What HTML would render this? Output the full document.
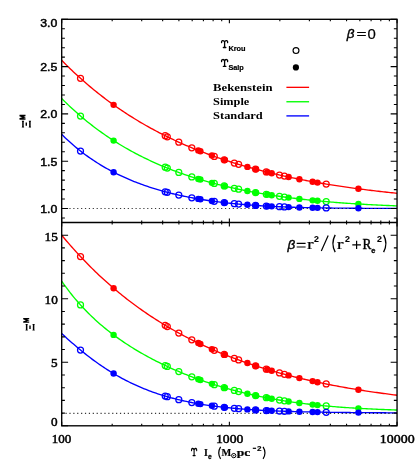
<!DOCTYPE html>
<html><head><meta charset="utf-8"><title>Chart</title>
<style>html,body{margin:0;padding:0;background:#fff;}body{width:415px;height:465px;overflow:hidden;font-family:"Liberation Sans",sans-serif;}svg{display:block;will-change:transform;}</style>
</head><body>
<svg width="415" height="465" viewBox="0 0 415 465">
<rect x="0" y="0" width="415" height="465" fill="#ffffff"/>
<defs><clipPath id="ct"><rect x="61.70" y="19.30" width="335.35" height="203.20"/></clipPath><clipPath id="cb"><rect x="61.70" y="222.50" width="335.35" height="203.30"/></clipPath></defs>
<polyline clip-path="url(#ct)" points="61.70,60.31 63.39,62.02 65.07,63.72 66.76,65.39 68.44,67.04 70.13,68.68 71.81,70.30 73.50,71.89 75.18,73.47 76.87,75.03 78.55,76.57 80.24,78.10 81.92,79.60 83.61,81.09 85.29,82.56 86.98,84.01 88.66,85.45 90.35,86.87 92.03,88.27 93.72,89.66 95.40,91.03 97.09,92.38 98.77,93.72 100.46,95.05 102.14,96.35 103.83,97.64 105.51,98.92 107.20,100.18 108.88,101.43 110.57,102.66 112.26,103.88 113.94,105.09 115.63,106.28 117.31,107.45 119.00,108.61 120.68,109.76 122.37,110.90 124.05,112.02 125.74,113.13 127.42,114.23 129.11,115.31 130.79,116.38 132.48,117.44 134.16,118.48 135.85,119.52 137.53,120.54 139.22,121.55 140.90,122.55 142.59,123.53 144.27,124.51 145.96,125.47 147.64,126.42 149.33,127.36 151.01,128.29 152.70,129.21 154.38,130.12 156.07,131.02 157.76,131.91 159.44,132.79 161.13,133.65 162.81,134.51 164.50,135.36 166.18,136.20 167.87,137.02 169.55,137.84 171.24,138.65 172.92,139.45 174.61,140.24 176.29,141.02 177.98,141.79 179.66,142.55 181.35,143.31 183.03,144.05 184.72,144.79 186.40,145.52 188.09,146.24 189.77,146.95 191.46,147.65 193.14,148.34 194.83,149.03 196.51,149.71 198.20,150.38 199.88,151.04 201.57,151.70 203.25,152.35 204.94,152.99 206.63,153.62 208.31,154.25 210.00,154.86 211.68,155.47 213.37,156.08 215.05,156.68 216.74,157.27 218.42,157.85 220.11,158.43 221.79,159.00 223.48,159.56 225.16,160.12 226.85,160.67 228.53,161.21 230.22,161.75 231.90,162.28 233.59,162.81 235.27,163.33 236.96,163.84 238.64,164.35 240.33,164.85 242.01,165.34 243.70,165.83 245.38,166.32 247.07,166.80 248.75,167.27 250.44,167.74 252.12,168.20 253.81,168.66 255.50,169.11 257.18,169.56 258.87,170.00 260.55,170.44 262.24,170.87 263.92,171.29 265.61,171.71 267.29,172.13 268.98,172.54 270.66,172.95 272.35,173.35 274.03,173.75 275.72,174.14 277.40,174.53 279.09,174.92 280.77,175.30 282.46,175.67 284.14,176.04 285.83,176.41 287.51,176.77 289.20,177.13 290.88,177.49 292.57,177.84 294.25,178.18 295.94,178.53 297.62,178.87 299.31,179.20 300.99,179.53 302.68,179.86 304.37,180.18 306.05,180.50 307.74,180.82 309.42,181.13 311.11,181.44 312.79,181.74 314.48,182.04 316.16,182.34 317.85,182.64 319.53,182.93 321.22,183.22 322.90,183.50 324.59,183.78 326.27,184.06 327.96,184.34 329.64,184.61 331.33,184.88 333.01,185.14 334.70,185.41 336.38,185.67 338.07,185.92 339.75,186.18 341.44,186.43 343.12,186.68 344.81,186.92 346.49,187.16 348.18,187.40 349.87,187.64 351.55,187.87 353.24,188.11 354.92,188.34 356.61,188.56 358.29,188.79 359.98,189.01 361.66,189.23 363.35,189.44 365.03,189.66 366.72,189.87 368.40,190.08 370.09,190.28 371.77,190.49 373.46,190.69 375.14,190.89 376.83,191.09 378.51,191.28 380.20,191.47 381.88,191.66 383.57,191.85 385.25,192.04 386.94,192.22 388.62,192.40 390.31,192.58 391.99,192.76 393.68,192.94 395.36,193.11 397.05,193.28" fill="none" stroke="#ff0000" stroke-width="1.35" stroke-linejoin="round"/>
<polyline clip-path="url(#ct)" points="61.70,98.53 63.39,100.21 65.07,101.88 66.76,103.52 68.44,105.13 70.13,106.72 71.81,108.29 73.50,109.83 75.18,111.36 76.87,112.85 78.55,114.33 80.24,115.79 81.92,117.22 83.61,118.63 85.29,120.03 86.98,121.40 88.66,122.75 90.35,124.08 92.03,125.39 93.72,126.69 95.40,127.96 97.09,129.22 98.77,130.45 100.46,131.67 102.14,132.87 103.83,134.06 105.51,135.22 107.20,136.37 108.88,137.51 110.57,138.62 112.26,139.72 113.94,140.81 115.63,141.87 117.31,142.93 119.00,143.96 120.68,144.99 122.37,145.99 124.05,146.99 125.74,147.97 127.42,148.93 129.11,149.88 130.79,150.82 132.48,151.74 134.16,152.65 135.85,153.54 137.53,154.43 139.22,155.30 140.90,156.15 142.59,157.00 144.27,157.83 145.96,158.65 147.64,159.46 149.33,160.26 151.01,161.04 152.70,161.82 154.38,162.58 156.07,163.33 157.76,164.07 159.44,164.80 161.13,165.52 162.81,166.23 164.50,166.92 166.18,167.61 167.87,168.29 169.55,168.96 171.24,169.61 172.92,170.26 174.61,170.90 176.29,171.53 177.98,172.15 179.66,172.76 181.35,173.36 183.03,173.95 184.72,174.54 186.40,175.11 188.09,175.68 189.77,176.24 191.46,176.79 193.14,177.33 194.83,177.86 196.51,178.39 198.20,178.91 199.88,179.42 201.57,179.92 203.25,180.41 204.94,180.90 206.63,181.38 208.31,181.85 210.00,182.32 211.68,182.78 213.37,183.23 215.05,183.67 216.74,184.11 218.42,184.54 220.11,184.96 221.79,185.38 223.48,185.79 225.16,186.20 226.85,186.60 228.53,186.99 230.22,187.38 231.90,187.76 233.59,188.13 235.27,188.50 236.96,188.87 238.64,189.22 240.33,189.57 242.01,189.92 243.70,190.26 245.38,190.60 247.07,190.93 248.75,191.25 250.44,191.57 252.12,191.89 253.81,192.20 255.50,192.50 257.18,192.80 258.87,193.10 260.55,193.39 262.24,193.67 263.92,193.95 265.61,194.23 267.29,194.50 268.98,194.77 270.66,195.03 272.35,195.29 274.03,195.55 275.72,195.80 277.40,196.04 279.09,196.29 280.77,196.52 282.46,196.76 284.14,196.99 285.83,197.21 287.51,197.44 289.20,197.66 290.88,197.87 292.57,198.08 294.25,198.29 295.94,198.49 297.62,198.70 299.31,198.89 300.99,199.09 302.68,199.28 304.37,199.47 306.05,199.65 307.74,199.83 309.42,200.01 311.11,200.18 312.79,200.35 314.48,200.52 316.16,200.69 317.85,200.85 319.53,201.01 321.22,201.17 322.90,201.32 324.59,201.47 326.27,201.62 327.96,201.77 329.64,201.91 331.33,202.05 333.01,202.19 334.70,202.33 336.38,202.46 338.07,202.59 339.75,202.72 341.44,202.84 343.12,202.97 344.81,203.09 346.49,203.21 348.18,203.32 349.87,203.44 351.55,203.55 353.24,203.66 354.92,203.77 356.61,203.87 358.29,203.98 359.98,204.08 361.66,204.18 363.35,204.28 365.03,204.37 366.72,204.47 368.40,204.56 370.09,204.65 371.77,204.74 373.46,204.83 375.14,204.91 376.83,205.00 378.51,205.08 380.20,205.16 381.88,205.24 383.57,205.31 385.25,205.39 386.94,205.46 388.62,205.54 390.31,205.61 391.99,205.68 393.68,205.74 395.36,205.81 397.05,205.88" fill="none" stroke="#00ff00" stroke-width="1.35" stroke-linejoin="round"/>
<polyline clip-path="url(#ct)" points="61.70,134.34 63.39,136.01 65.07,137.65 66.76,139.25 68.44,140.81 70.13,142.34 71.81,143.83 73.50,145.29 75.18,146.72 76.87,148.12 78.55,149.49 80.24,150.83 81.92,152.14 83.61,153.42 85.29,154.67 86.98,155.90 88.66,157.10 90.35,158.28 92.03,159.43 93.72,160.55 95.40,161.66 97.09,162.74 98.77,163.79 100.46,164.83 102.14,165.84 103.83,166.83 105.51,167.80 107.20,168.75 108.88,169.68 110.57,170.59 112.26,171.49 113.94,172.36 115.63,173.22 117.31,174.05 119.00,174.87 120.68,175.68 122.37,176.46 124.05,177.23 125.74,177.99 127.42,178.73 129.11,179.45 130.79,180.16 132.48,180.85 134.16,181.53 135.85,182.19 137.53,182.84 139.22,183.48 140.90,184.11 142.59,184.72 144.27,185.31 145.96,185.90 147.64,186.47 149.33,187.03 151.01,187.58 152.70,188.12 154.38,188.64 156.07,189.16 157.76,189.66 159.44,190.15 161.13,190.64 162.81,191.11 164.50,191.57 166.18,192.02 167.87,192.46 169.55,192.89 171.24,193.31 172.92,193.73 174.61,194.13 176.29,194.53 177.98,194.91 179.66,195.29 181.35,195.66 183.03,196.02 184.72,196.37 186.40,196.71 188.09,197.05 189.77,197.38 191.46,197.70 193.14,198.01 194.83,198.32 196.51,198.61 198.20,198.91 199.88,199.19 201.57,199.47 203.25,199.74 204.94,200.00 206.63,200.26 208.31,200.51 210.00,200.76 211.68,201.00 213.37,201.23 215.05,201.46 216.74,201.68 218.42,201.89 220.11,202.10 221.79,202.31 223.48,202.51 225.16,202.70 226.85,202.89 228.53,203.08 230.22,203.26 231.90,203.43 233.59,203.60 235.27,203.76 236.96,203.92 238.64,204.08 240.33,204.23 242.01,204.38 243.70,204.52 245.38,204.66 247.07,204.80 248.75,204.93 250.44,205.05 252.12,205.18 253.81,205.30 255.50,205.41 257.18,205.53 258.87,205.64 260.55,205.74 262.24,205.85 263.92,205.95 265.61,206.04 267.29,206.14 268.98,206.23 270.66,206.31 272.35,206.40 274.03,206.48 275.72,206.56 277.40,206.64 279.09,206.71 280.77,206.78 282.46,206.85 284.14,206.92 285.83,206.98 287.51,207.05 289.20,207.11 290.88,207.16 292.57,207.22 294.25,207.27 295.94,207.33 297.62,207.38 299.31,207.43 300.99,207.47 302.68,207.52 304.37,207.56 306.05,207.60 307.74,207.64 309.42,207.68 311.11,207.71 312.79,207.75 314.48,207.78 316.16,207.81 317.85,207.84 319.53,207.87 321.22,207.90 322.90,207.92 324.59,207.95 326.27,207.97 327.96,207.99 329.64,208.02 331.33,208.04 333.01,208.06 334.70,208.08 336.38,208.09 338.07,208.11 339.75,208.13 341.44,208.14 343.12,208.16 344.81,208.17 346.49,208.19 348.18,208.20 349.87,208.21 351.55,208.23 353.24,208.24 354.92,208.25 356.61,208.26 358.29,208.27 359.98,208.28 361.66,208.29 363.35,208.30 365.03,208.31 366.72,208.32 368.40,208.32 370.09,208.33 371.77,208.34 373.46,208.35 375.14,208.35 376.83,208.36 378.51,208.37 380.20,208.37 381.88,208.38 383.57,208.38 385.25,208.39 386.94,208.39 388.62,208.40 390.31,208.40 391.99,208.41 393.68,208.41 395.36,208.41 397.05,208.42" fill="none" stroke="#0000ff" stroke-width="1.35" stroke-linejoin="round"/>
<polyline clip-path="url(#cb)" points="61.70,235.20 63.39,237.22 65.07,239.23 66.76,241.21 68.44,243.17 70.13,245.11 71.81,247.03 73.50,248.92 75.18,250.79 76.87,252.65 78.55,254.48 80.24,256.29 81.92,258.08 83.61,259.84 85.29,261.59 86.98,263.32 88.66,265.03 90.35,266.72 92.03,268.39 93.72,270.05 95.40,271.68 97.09,273.29 98.77,274.89 100.46,276.47 102.14,278.03 103.83,279.57 105.51,281.10 107.20,282.60 108.88,284.09 110.57,285.57 112.26,287.03 113.94,288.47 115.63,289.89 117.31,291.30 119.00,292.69 120.68,294.07 122.37,295.43 124.05,296.77 125.74,298.10 127.42,299.42 129.11,300.72 130.79,302.00 132.48,303.27 134.16,304.53 135.85,305.77 137.53,307.00 139.22,308.21 140.90,309.41 142.59,310.60 144.27,311.77 145.96,312.93 147.64,314.07 149.33,315.21 151.01,316.33 152.70,317.43 154.38,318.53 156.07,319.61 157.76,320.68 159.44,321.74 161.13,322.78 162.81,323.82 164.50,324.84 166.18,325.85 167.87,326.85 169.55,327.84 171.24,328.81 172.92,329.78 174.61,330.73 176.29,331.68 177.98,332.61 179.66,333.53 181.35,334.44 183.03,335.35 184.72,336.24 186.40,337.12 188.09,337.99 189.77,338.85 191.46,339.70 193.14,340.54 194.83,341.37 196.51,342.19 198.20,343.01 199.88,343.81 201.57,344.61 203.25,345.39 204.94,346.17 206.63,346.94 208.31,347.69 210.00,348.44 211.68,349.19 213.37,349.92 215.05,350.64 216.74,351.36 218.42,352.07 220.11,352.77 221.79,353.46 223.48,354.15 225.16,354.82 226.85,355.49 228.53,356.15 230.22,356.81 231.90,357.45 233.59,358.09 235.27,358.72 236.96,359.35 238.64,359.96 240.33,360.57 242.01,361.18 243.70,361.77 245.38,362.36 247.07,362.95 248.75,363.52 250.44,364.09 252.12,364.66 253.81,365.21 255.50,365.76 257.18,366.31 258.87,366.84 260.55,367.38 262.24,367.90 263.92,368.42 265.61,368.93 267.29,369.44 268.98,369.94 270.66,370.44 272.35,370.93 274.03,371.42 275.72,371.89 277.40,372.37 279.09,372.84 280.77,373.30 282.46,373.76 284.14,374.21 285.83,374.66 287.51,375.10 289.20,375.54 290.88,375.97 292.57,376.40 294.25,376.82 295.94,377.24 297.62,377.65 299.31,378.06 300.99,378.46 302.68,378.86 304.37,379.25 306.05,379.64 307.74,380.03 309.42,380.41 311.11,380.79 312.79,381.16 314.48,381.53 316.16,381.89 317.85,382.25 319.53,382.60 321.22,382.96 322.90,383.30 324.59,383.65 326.27,383.99 327.96,384.32 329.64,384.65 331.33,384.98 333.01,385.31 334.70,385.63 336.38,385.94 338.07,386.26 339.75,386.56 341.44,386.87 343.12,387.17 344.81,387.47 346.49,387.77 348.18,388.06 349.87,388.35 351.55,388.63 353.24,388.92 354.92,389.20 356.61,389.47 358.29,389.74 359.98,390.01 361.66,390.28 363.35,390.54 365.03,390.80 366.72,391.06 368.40,391.31 370.09,391.57 371.77,391.81 373.46,392.06 375.14,392.30 376.83,392.54 378.51,392.78 380.20,393.02 381.88,393.25 383.57,393.48 385.25,393.70 386.94,393.93 388.62,394.15 390.31,394.37 391.99,394.58 393.68,394.80 395.36,395.01 397.05,395.22" fill="none" stroke="#ff0000" stroke-width="1.35" stroke-linejoin="round"/>
<polyline clip-path="url(#cb)" points="61.70,281.11 63.39,283.53 65.07,285.88 66.76,288.18 68.44,290.42 70.13,292.60 71.81,294.73 73.50,296.81 75.18,298.83 76.87,300.81 78.55,302.75 80.24,304.64 81.92,306.49 83.61,308.29 85.29,310.06 86.98,311.79 88.66,313.48 90.35,315.14 92.03,316.76 93.72,318.35 95.40,319.90 97.09,321.43 98.77,322.92 100.46,324.39 102.14,325.83 103.83,327.24 105.51,328.62 107.20,329.98 108.88,331.31 110.57,332.62 112.26,333.91 113.94,335.18 115.63,336.42 117.31,337.64 119.00,338.84 120.68,340.02 122.37,341.18 124.05,342.33 125.74,343.45 127.42,344.56 129.11,345.65 130.79,346.72 132.48,347.77 134.16,348.81 135.85,349.84 137.53,350.85 139.22,351.84 140.90,352.82 142.59,353.78 144.27,354.74 145.96,355.67 147.64,356.60 149.33,357.51 151.01,358.41 152.70,359.29 154.38,360.17 156.07,361.03 157.76,361.88 159.44,362.72 161.13,363.54 162.81,364.36 164.50,365.16 166.18,365.96 167.87,366.74 169.55,367.51 171.24,368.28 172.92,369.03 174.61,369.77 176.29,370.50 177.98,371.23 179.66,371.94 181.35,372.64 183.03,373.34 184.72,374.02 186.40,374.70 188.09,375.37 189.77,376.02 191.46,376.67 193.14,377.31 194.83,377.94 196.51,378.57 198.20,379.18 199.88,379.79 201.57,380.39 203.25,380.97 204.94,381.56 206.63,382.13 208.31,382.69 210.00,383.25 211.68,383.80 213.37,384.34 215.05,384.88 216.74,385.40 218.42,385.92 220.11,386.43 221.79,386.93 223.48,387.43 225.16,387.92 226.85,388.40 228.53,388.87 230.22,389.34 231.90,389.80 233.59,390.25 235.27,390.69 236.96,391.13 238.64,391.56 240.33,391.99 242.01,392.41 243.70,392.82 245.38,393.22 247.07,393.62 248.75,394.01 250.44,394.39 252.12,394.77 253.81,395.14 255.50,395.51 257.18,395.87 258.87,396.22 260.55,396.57 262.24,396.91 263.92,397.24 265.61,397.57 267.29,397.89 268.98,398.21 270.66,398.52 272.35,398.82 274.03,399.12 275.72,399.42 277.40,399.71 279.09,399.99 280.77,400.27 282.46,400.54 284.14,400.80 285.83,401.07 287.51,401.32 289.20,401.57 290.88,401.82 292.57,402.06 294.25,402.30 295.94,402.53 297.62,402.76 299.31,402.98 300.99,403.20 302.68,403.41 304.37,403.62 306.05,403.83 307.74,404.03 309.42,404.22 311.11,404.41 312.79,404.60 314.48,404.78 316.16,404.96 317.85,405.14 319.53,405.31 321.22,405.48 322.90,405.64 324.59,405.80 326.27,405.96 327.96,406.11 329.64,406.26 331.33,406.41 333.01,406.55 334.70,406.69 336.38,406.83 338.07,406.96 339.75,407.09 341.44,407.22 343.12,407.34 344.81,407.46 346.49,407.58 348.18,407.69 349.87,407.81 351.55,407.92 353.24,408.02 354.92,408.13 356.61,408.23 358.29,408.33 359.98,408.42 361.66,408.52 363.35,408.61 365.03,408.70 366.72,408.79 368.40,408.87 370.09,408.95 371.77,409.03 373.46,409.11 375.14,409.19 376.83,409.26 378.51,409.33 380.20,409.40 381.88,409.47 383.57,409.54 385.25,409.60 386.94,409.67 388.62,409.73 390.31,409.79 391.99,409.85 393.68,409.90 395.36,409.96 397.05,410.01" fill="none" stroke="#00ff00" stroke-width="1.35" stroke-linejoin="round"/>
<polyline clip-path="url(#cb)" points="61.70,333.48 63.39,335.04 65.07,336.59 66.76,338.13 68.44,339.65 70.13,341.15 71.81,342.64 73.50,344.11 75.18,345.56 76.87,347.00 78.55,348.41 80.24,349.81 81.92,351.20 83.61,352.56 85.29,353.90 86.98,355.23 88.66,356.53 90.35,357.82 92.03,359.09 93.72,360.34 95.40,361.56 97.09,362.77 98.77,363.96 100.46,365.13 102.14,366.28 103.83,367.41 105.51,368.52 107.20,369.61 108.88,370.68 110.57,371.73 112.26,372.76 113.94,373.77 115.63,374.76 117.31,375.73 119.00,376.69 120.68,377.62 122.37,378.54 124.05,379.44 125.74,380.32 127.42,381.18 129.11,382.02 130.79,382.84 132.48,383.65 134.16,384.44 135.85,385.21 137.53,385.97 139.22,386.70 140.90,387.42 142.59,388.13 144.27,388.82 145.96,389.49 147.64,390.15 149.33,390.79 151.01,391.41 152.70,392.02 154.38,392.62 156.07,393.20 157.76,393.77 159.44,394.32 161.13,394.86 162.81,395.38 164.50,395.89 166.18,396.39 167.87,396.88 169.55,397.35 171.24,397.81 172.92,398.26 174.61,398.70 176.29,399.13 177.98,399.54 179.66,399.94 181.35,400.34 183.03,400.72 184.72,401.09 186.40,401.45 188.09,401.80 189.77,402.14 191.46,402.47 193.14,402.80 194.83,403.11 196.51,403.41 198.20,403.71 199.88,404.00 201.57,404.28 203.25,404.55 204.94,404.81 206.63,405.07 208.31,405.31 210.00,405.56 211.68,405.79 213.37,406.02 215.05,406.24 216.74,406.45 218.42,406.66 220.11,406.86 221.79,407.05 223.48,407.24 225.16,407.43 226.85,407.61 228.53,407.78 230.22,407.94 231.90,408.11 233.59,408.26 235.27,408.42 236.96,408.56 238.64,408.71 240.33,408.85 242.01,408.98 243.70,409.11 245.38,409.24 247.07,409.36 248.75,409.48 250.44,409.59 252.12,409.70 253.81,409.81 255.50,409.92 257.18,410.02 258.87,410.11 260.55,410.21 262.24,410.30 263.92,410.39 265.61,410.47 267.29,410.56 268.98,410.64 270.66,410.72 272.35,410.79 274.03,410.86 275.72,410.93 277.40,411.00 279.09,411.07 280.77,411.13 282.46,411.19 284.14,411.25 285.83,411.31 287.51,411.37 289.20,411.42 290.88,411.48 292.57,411.53 294.25,411.58 295.94,411.62 297.62,411.67 299.31,411.71 300.99,411.76 302.68,411.80 304.37,411.84 306.05,411.88 307.74,411.91 309.42,411.95 311.11,411.99 312.79,412.02 314.48,412.05 316.16,412.09 317.85,412.12 319.53,412.15 321.22,412.17 322.90,412.20 324.59,412.23 326.27,412.26 327.96,412.28 329.64,412.31 331.33,412.33 333.01,412.35 334.70,412.37 336.38,412.40 338.07,412.42 339.75,412.44 341.44,412.46 343.12,412.47 344.81,412.49 346.49,412.51 348.18,412.53 349.87,412.54 351.55,412.56 353.24,412.58 354.92,412.59 356.61,412.60 358.29,412.62 359.98,412.63 361.66,412.64 363.35,412.66 365.03,412.67 366.72,412.68 368.40,412.69 370.09,412.70 371.77,412.71 373.46,412.73 375.14,412.74 376.83,412.75 378.51,412.75 380.20,412.76 381.88,412.77 383.57,412.78 385.25,412.79 386.94,412.80 388.62,412.81 390.31,412.81 391.99,412.82 393.68,412.83 395.36,412.83 397.05,412.84" fill="none" stroke="#0000ff" stroke-width="1.35" stroke-linejoin="round"/>
<line x1="61.60" y1="208.50" x2="397.05" y2="208.50" stroke="#000" stroke-width="1.05" stroke-dasharray="1.2 2.69" opacity="0.78"/>
<line x1="61.60" y1="413.39" x2="397.05" y2="413.39" stroke="#000" stroke-width="1.05" stroke-dasharray="1.2 2.69" opacity="0.78"/>
<g fill="none" stroke="#ff0000" stroke-width="1.25"><circle cx="80.50" cy="78.33" r="3.00"/><circle cx="165.20" cy="135.71" r="3.00"/><circle cx="167.30" cy="136.75" r="3.00"/><circle cx="178.80" cy="142.16" r="3.00"/><circle cx="191.80" cy="147.79" r="3.00"/><circle cx="214.30" cy="156.41" r="3.00"/><circle cx="224.20" cy="159.80" r="3.00"/><circle cx="234.30" cy="163.03" r="3.00"/><circle cx="238.60" cy="164.33" r="3.00"/><circle cx="255.50" cy="169.11" r="3.00"/><circle cx="266.30" cy="171.89" r="3.00"/><circle cx="279.50" cy="175.01" r="3.00"/><circle cx="284.40" cy="176.10" r="3.00"/><circle cx="326.20" cy="184.05" r="3.00"/></g>
<g fill="#ff0000" stroke="none"><circle cx="113.60" cy="104.84" r="3.20"/><circle cx="198.30" cy="150.42" r="3.20"/><circle cx="200.40" cy="151.24" r="3.20"/><circle cx="211.90" cy="155.55" r="3.20"/><circle cx="224.90" cy="160.03" r="3.20"/><circle cx="247.40" cy="166.89" r="3.20"/><circle cx="256.10" cy="169.27" r="3.20"/><circle cx="267.40" cy="172.16" r="3.20"/><circle cx="271.70" cy="173.20" r="3.20"/><circle cx="288.60" cy="177.01" r="3.20"/><circle cx="299.40" cy="179.22" r="3.20"/><circle cx="312.60" cy="181.71" r="3.20"/><circle cx="317.50" cy="182.58" r="3.20"/><circle cx="358.40" cy="188.80" r="3.20"/></g>
<g fill="none" stroke="#00ff00" stroke-width="1.25"><circle cx="80.50" cy="116.01" r="3.00"/><circle cx="165.20" cy="167.21" r="3.00"/><circle cx="167.30" cy="168.06" r="3.00"/><circle cx="178.80" cy="172.45" r="3.00"/><circle cx="191.80" cy="176.90" r="3.00"/><circle cx="214.30" cy="183.47" r="3.00"/><circle cx="224.20" cy="185.97" r="3.00"/><circle cx="234.30" cy="188.29" r="3.00"/><circle cx="238.60" cy="189.21" r="3.00"/><circle cx="255.50" cy="192.50" r="3.00"/><circle cx="266.30" cy="194.34" r="3.00"/><circle cx="279.50" cy="196.34" r="3.00"/><circle cx="284.40" cy="197.02" r="3.00"/><circle cx="326.20" cy="201.62" r="3.00"/></g>
<g fill="#00ff00" stroke="none"><circle cx="113.60" cy="140.59" r="3.20"/><circle cx="198.30" cy="178.94" r="3.20"/><circle cx="200.40" cy="179.57" r="3.20"/><circle cx="211.90" cy="182.83" r="3.20"/><circle cx="224.90" cy="186.14" r="3.20"/><circle cx="247.40" cy="190.99" r="3.20"/><circle cx="256.10" cy="192.61" r="3.20"/><circle cx="267.40" cy="194.52" r="3.20"/><circle cx="271.70" cy="195.19" r="3.20"/><circle cx="288.60" cy="197.58" r="3.20"/><circle cx="299.40" cy="198.90" r="3.20"/><circle cx="312.60" cy="200.34" r="3.20"/><circle cx="317.50" cy="200.82" r="3.20"/><circle cx="358.40" cy="203.99" r="3.20"/></g>
<g fill="none" stroke="#0000ff" stroke-width="1.25"><circle cx="80.50" cy="151.03" r="3.00"/><circle cx="165.20" cy="191.76" r="3.00"/><circle cx="167.30" cy="192.31" r="3.00"/><circle cx="178.80" cy="195.10" r="3.00"/><circle cx="191.80" cy="197.76" r="3.00"/><circle cx="214.30" cy="201.36" r="3.00"/><circle cx="224.20" cy="202.59" r="3.00"/><circle cx="234.30" cy="203.67" r="3.00"/><circle cx="238.60" cy="204.08" r="3.00"/><circle cx="255.50" cy="205.42" r="3.00"/><circle cx="266.30" cy="206.08" r="3.00"/><circle cx="279.50" cy="206.73" r="3.00"/><circle cx="284.40" cy="206.93" r="3.00"/><circle cx="326.20" cy="207.97" r="3.00"/></g>
<g fill="#0000ff" stroke="none"><circle cx="113.60" cy="172.19" r="3.20"/><circle cx="198.30" cy="198.92" r="3.20"/><circle cx="200.40" cy="199.28" r="3.20"/><circle cx="211.90" cy="201.03" r="3.20"/><circle cx="224.90" cy="202.67" r="3.20"/><circle cx="247.40" cy="204.82" r="3.20"/><circle cx="256.10" cy="205.46" r="3.20"/><circle cx="267.40" cy="206.14" r="3.20"/><circle cx="271.70" cy="206.37" r="3.20"/><circle cx="288.60" cy="207.09" r="3.20"/><circle cx="299.40" cy="207.43" r="3.20"/><circle cx="312.60" cy="207.74" r="3.20"/><circle cx="317.50" cy="207.83" r="3.20"/><circle cx="358.40" cy="208.27" r="3.20"/></g>
<g fill="none" stroke="#ff0000" stroke-width="1.25"><circle cx="80.50" cy="256.57" r="3.00"/><circle cx="165.20" cy="325.26" r="3.00"/><circle cx="167.30" cy="326.52" r="3.00"/><circle cx="178.80" cy="333.06" r="3.00"/><circle cx="191.80" cy="339.87" r="3.00"/><circle cx="214.30" cy="350.32" r="3.00"/><circle cx="224.20" cy="354.44" r="3.00"/><circle cx="234.30" cy="358.36" r="3.00"/><circle cx="238.60" cy="359.95" r="3.00"/><circle cx="255.50" cy="365.76" r="3.00"/><circle cx="266.30" cy="369.14" r="3.00"/><circle cx="279.50" cy="372.95" r="3.00"/><circle cx="284.40" cy="374.28" r="3.00"/><circle cx="326.20" cy="383.97" r="3.00"/></g>
<g fill="#ff0000" stroke="none"><circle cx="113.60" cy="288.18" r="3.20"/><circle cx="198.30" cy="343.06" r="3.20"/><circle cx="200.40" cy="344.06" r="3.20"/><circle cx="211.90" cy="349.28" r="3.20"/><circle cx="224.90" cy="354.72" r="3.20"/><circle cx="247.40" cy="363.06" r="3.20"/><circle cx="256.10" cy="365.96" r="3.20"/><circle cx="267.40" cy="369.47" r="3.20"/><circle cx="271.70" cy="370.74" r="3.20"/><circle cx="288.60" cy="375.38" r="3.20"/><circle cx="299.40" cy="378.08" r="3.20"/><circle cx="312.60" cy="381.12" r="3.20"/><circle cx="317.50" cy="382.18" r="3.20"/><circle cx="358.40" cy="389.76" r="3.20"/></g>
<g fill="none" stroke="#00ff00" stroke-width="1.25"><circle cx="80.50" cy="304.93" r="3.00"/><circle cx="165.20" cy="365.50" r="3.00"/><circle cx="167.30" cy="366.48" r="3.00"/><circle cx="178.80" cy="371.58" r="3.00"/><circle cx="191.80" cy="376.80" r="3.00"/><circle cx="214.30" cy="384.64" r="3.00"/><circle cx="224.20" cy="387.64" r="3.00"/><circle cx="234.30" cy="390.44" r="3.00"/><circle cx="238.60" cy="391.55" r="3.00"/><circle cx="255.50" cy="395.51" r="3.00"/><circle cx="266.30" cy="397.70" r="3.00"/><circle cx="279.50" cy="400.06" r="3.00"/><circle cx="284.40" cy="400.85" r="3.00"/><circle cx="326.20" cy="405.95" r="3.00"/></g>
<g fill="#00ff00" stroke="none"><circle cx="113.60" cy="334.92" r="3.20"/><circle cx="198.30" cy="379.22" r="3.20"/><circle cx="200.40" cy="379.97" r="3.20"/><circle cx="211.90" cy="383.87" r="3.20"/><circle cx="224.90" cy="387.84" r="3.20"/><circle cx="247.40" cy="393.70" r="3.20"/><circle cx="256.10" cy="395.64" r="3.20"/><circle cx="267.40" cy="397.91" r="3.20"/><circle cx="271.70" cy="398.71" r="3.20"/><circle cx="288.60" cy="401.49" r="3.20"/><circle cx="299.40" cy="402.99" r="3.20"/><circle cx="312.60" cy="404.58" r="3.20"/><circle cx="317.50" cy="405.10" r="3.20"/><circle cx="358.40" cy="408.33" r="3.20"/></g>
<g fill="none" stroke="#0000ff" stroke-width="1.25"><circle cx="80.50" cy="350.03" r="3.00"/><circle cx="165.20" cy="396.10" r="3.00"/><circle cx="167.30" cy="396.72" r="3.00"/><circle cx="178.80" cy="399.74" r="3.00"/><circle cx="191.80" cy="402.54" r="3.00"/><circle cx="214.30" cy="406.14" r="3.00"/><circle cx="224.20" cy="407.32" r="3.00"/><circle cx="234.30" cy="408.33" r="3.00"/><circle cx="238.60" cy="408.70" r="3.00"/><circle cx="255.50" cy="409.92" r="3.00"/><circle cx="266.30" cy="410.51" r="3.00"/><circle cx="279.50" cy="411.08" r="3.00"/><circle cx="284.40" cy="411.26" r="3.00"/><circle cx="326.20" cy="412.25" r="3.00"/></g>
<g fill="#0000ff" stroke="none"><circle cx="113.60" cy="373.57" r="3.20"/><circle cx="198.30" cy="403.73" r="3.20"/><circle cx="200.40" cy="404.08" r="3.20"/><circle cx="211.90" cy="405.82" r="3.20"/><circle cx="224.90" cy="407.40" r="3.20"/><circle cx="247.40" cy="409.38" r="3.20"/><circle cx="256.10" cy="409.95" r="3.20"/><circle cx="267.40" cy="410.56" r="3.20"/><circle cx="271.70" cy="410.76" r="3.20"/><circle cx="288.60" cy="411.40" r="3.20"/><circle cx="299.40" cy="411.72" r="3.20"/><circle cx="312.60" cy="412.02" r="3.20"/><circle cx="317.50" cy="412.11" r="3.20"/><circle cx="358.40" cy="412.62" r="3.20"/></g>
<path d="M61.70 217.96L64.90 217.96M397.05 217.96L393.85 217.96M61.70 208.50L68.10 208.50M397.05 208.50L390.65 208.50M61.70 199.04L64.90 199.04M397.05 199.04L393.85 199.04M61.70 189.58L64.90 189.58M397.05 189.58L393.85 189.58M61.70 180.12L64.90 180.12M397.05 180.12L393.85 180.12M61.70 170.66L64.90 170.66M397.05 170.66L393.85 170.66M61.70 161.20L68.10 161.20M397.05 161.20L390.65 161.20M61.70 151.74L64.90 151.74M397.05 151.74L393.85 151.74M61.70 142.28L64.90 142.28M397.05 142.28L393.85 142.28M61.70 132.82L64.90 132.82M397.05 132.82L393.85 132.82M61.70 123.36L64.90 123.36M397.05 123.36L393.85 123.36M61.70 113.90L68.10 113.90M397.05 113.90L390.65 113.90M61.70 104.44L64.90 104.44M397.05 104.44L393.85 104.44M61.70 94.98L64.90 94.98M397.05 94.98L393.85 94.98M61.70 85.52L64.90 85.52M397.05 85.52L393.85 85.52M61.70 76.06L64.90 76.06M397.05 76.06L393.85 76.06M61.70 66.60L68.10 66.60M397.05 66.60L390.65 66.60M61.70 57.14L64.90 57.14M397.05 57.14L393.85 57.14M61.70 47.68L64.90 47.68M397.05 47.68L393.85 47.68M61.70 38.22L64.90 38.22M397.05 38.22L393.85 38.22M61.70 28.76L64.90 28.76M397.05 28.76L393.85 28.76M61.70 19.30L68.10 19.30M397.05 19.30L390.65 19.30M61.70 425.80L68.10 425.80M397.05 425.80L390.65 425.80M61.70 413.09L64.90 413.09M397.05 413.09L393.85 413.09M61.70 400.39L64.90 400.39M397.05 400.39L393.85 400.39M61.70 387.68L64.90 387.68M397.05 387.68L393.85 387.68M61.70 374.98L64.90 374.98M397.05 374.98L393.85 374.98M61.70 362.27L68.10 362.27M397.05 362.27L390.65 362.27M61.70 349.56L64.90 349.56M397.05 349.56L393.85 349.56M61.70 336.86L64.90 336.86M397.05 336.86L393.85 336.86M61.70 324.15L64.90 324.15M397.05 324.15L393.85 324.15M61.70 311.44L64.90 311.44M397.05 311.44L393.85 311.44M61.70 298.74L68.10 298.74M397.05 298.74L390.65 298.74M61.70 286.03L64.90 286.03M397.05 286.03L393.85 286.03M61.70 273.32L64.90 273.32M397.05 273.32L393.85 273.32M61.70 260.62L64.90 260.62M397.05 260.62L393.85 260.62M61.70 247.91L64.90 247.91M397.05 247.91L393.85 247.91M61.70 235.21L68.10 235.21M397.05 235.21L390.65 235.21M61.70 222.50L64.90 222.50M397.05 222.50L393.85 222.50M61.70 19.30L61.70 23.30M61.70 218.50L61.70 226.50M61.70 425.80L61.70 421.80M112.18 19.30L112.18 21.30M112.18 220.50L112.18 224.50M112.18 425.80L112.18 423.80M141.70 19.30L141.70 21.30M141.70 220.50L141.70 224.50M141.70 425.80L141.70 423.80M162.65 19.30L162.65 21.30M162.65 220.50L162.65 224.50M162.65 425.80L162.65 423.80M178.90 19.30L178.90 21.30M178.90 220.50L178.90 224.50M178.90 425.80L178.90 423.80M192.18 19.30L192.18 21.30M192.18 220.50L192.18 224.50M192.18 425.80L192.18 423.80M203.40 19.30L203.40 21.30M203.40 220.50L203.40 224.50M203.40 425.80L203.40 423.80M213.13 19.30L213.13 21.30M213.13 220.50L213.13 224.50M213.13 425.80L213.13 423.80M221.70 19.30L221.70 21.30M221.70 220.50L221.70 224.50M221.70 425.80L221.70 423.80M229.38 19.30L229.38 23.30M229.38 218.50L229.38 226.50M229.38 425.80L229.38 421.80M279.85 19.30L279.85 21.30M279.85 220.50L279.85 224.50M279.85 425.80L279.85 423.80M309.38 19.30L309.38 21.30M309.38 220.50L309.38 224.50M309.38 425.80L309.38 423.80M330.33 19.30L330.33 21.30M330.33 220.50L330.33 224.50M330.33 425.80L330.33 423.80M346.57 19.30L346.57 21.30M346.57 220.50L346.57 224.50M346.57 425.80L346.57 423.80M359.85 19.30L359.85 21.30M359.85 220.50L359.85 224.50M359.85 425.80L359.85 423.80M371.08 19.30L371.08 21.30M371.08 220.50L371.08 224.50M371.08 425.80L371.08 423.80M380.80 19.30L380.80 21.30M380.80 220.50L380.80 224.50M380.80 425.80L380.80 423.80M389.38 19.30L389.38 21.30M389.38 220.50L389.38 224.50M389.38 425.80L389.38 423.80M397.05 19.30L397.05 23.30M397.05 218.50L397.05 226.50M397.05 425.80L397.05 421.80" stroke="#000" stroke-width="1.10" fill="none"/>
<rect x="61.70" y="19.30" width="335.35" height="406.50" fill="none" stroke="#000" stroke-width="1.35"/>
<line x1="61.70" y1="222.50" x2="397.05" y2="222.50" stroke="#000" stroke-width="1.35"/>
<g id="alltext" opacity="0.999">
<g font-family="Liberation Sans, sans-serif" font-size="10.8" fill="#000" stroke="#000" stroke-width="0.45" text-anchor="end">
<text x="57.3" y="26.9" textLength="17.1" lengthAdjust="spacingAndGlyphs">3.0</text>
<text x="57.3" y="70.9" textLength="17.1" lengthAdjust="spacingAndGlyphs">2.5</text>
<text x="57.3" y="118.3" textLength="17.1" lengthAdjust="spacingAndGlyphs">2.0</text>
<text x="57.3" y="165.5" textLength="17.1" lengthAdjust="spacingAndGlyphs">1.5</text>
<text x="57.3" y="212.6" textLength="17.1" lengthAdjust="spacingAndGlyphs">1.0</text>
</g>
<g font-family="Liberation Serif, serif" font-size="12.8" fill="#000" stroke="#000" stroke-width="0.5" text-anchor="end">
<text x="57.8" y="240.6" textLength="13.2" lengthAdjust="spacingAndGlyphs">15</text>
<text x="57.8" y="304.0" textLength="13.2" lengthAdjust="spacingAndGlyphs">10</text>
<text x="57.6" y="367.3" textLength="6.6" lengthAdjust="spacingAndGlyphs">5</text>
<text x="57.6" y="426.4" textLength="6.6" lengthAdjust="spacingAndGlyphs">0</text>
</g>
<g font-family="Liberation Serif, serif" font-size="12.8" fill="#000" stroke="#000" stroke-width="0.5" text-anchor="middle">
<text x="61.5" y="442.8" textLength="19.6" lengthAdjust="spacingAndGlyphs">100</text>
<text x="229.7" y="442.8" textLength="27.4" lengthAdjust="spacingAndGlyphs">1000</text>
<text x="397.2" y="442.8" textLength="34.8" lengthAdjust="spacingAndGlyphs">10000</text>
</g>
<!-- legend -->
<g font-family="Liberation Serif, serif" font-size="11.3" font-weight="bold" fill="#000">
<text x="213.1" y="90.7" textLength="59.5" lengthAdjust="spacingAndGlyphs">Bekenstein</text>
<text x="213.1" y="105.0" textLength="36.2" lengthAdjust="spacingAndGlyphs">Simple</text>
<text x="213.1" y="119.0" textLength="49.7" lengthAdjust="spacingAndGlyphs">Standard</text>
</g>
<g font-family="Liberation Sans, sans-serif" font-size="6.7" font-weight="bold" fill="#000">
<text x="228.4" y="50.9" textLength="17.2" lengthAdjust="spacingAndGlyphs" stroke="#000" stroke-width="0.2">Krou</text>
<text x="228.4" y="69.5" textLength="15.4" lengthAdjust="spacingAndGlyphs" stroke="#000" stroke-width="0.2">Salp</text>
</g>
<line x1="286.4" y1="87.35" x2="309.1" y2="87.35" stroke="#ff0000" stroke-width="1.35"/>
<line x1="286.4" y1="101.75" x2="309.1" y2="101.75" stroke="#00ff00" stroke-width="1.35"/>
<line x1="286.4" y1="115.9" x2="309.1" y2="115.9" stroke="#0000ff" stroke-width="1.35"/>
<circle cx="296.0" cy="50.5" r="2.95" fill="none" stroke="#000" stroke-width="1.15"/>
<circle cx="295.9" cy="67.4" r="3.1" fill="#000"/>
<g fill="none" stroke="#000" stroke-width="1.3" stroke-linecap="round">
<path id="ups" d="M0 -5.5V-0.2M-1.25 0H1.25M-3.0 -4.8C-3.5 -7.3 -0.7 -7.6 0 -5.4C0.7 -7.6 3.5 -7.3 3.0 -4.8" transform="translate(224.6 47.5)"/>
<path d="M0 -5.5V-0.2M-1.25 0H1.25M-3.0 -4.8C-3.5 -7.3 -0.7 -7.6 0 -5.4C0.7 -7.6 3.5 -7.3 3.0 -4.8" transform="translate(224.6 66.4)"/>
<path d="M0 -5.5V-0.2M-1.25 0H1.25M-3.0 -4.8C-3.5 -7.3 -0.7 -7.6 0 -5.4C0.7 -7.6 3.5 -7.3 3.0 -4.8" transform="translate(194.1 455.6) scale(0.85 1.03)"/>
</g>
<!-- beta labels -->
<g fill="#000">
<g font-family="Liberation Sans, sans-serif" font-size="13.5" stroke="#000" stroke-width="0.4">
<text x="346.7" y="38.3" font-style="italic">β</text>
<text x="356.2" y="38.1" textLength="10.5" lengthAdjust="spacingAndGlyphs" stroke-width="0.1">=</text>
<text x="367.4" y="38.5" font-size="13.9" textLength="8.3" lengthAdjust="spacingAndGlyphs" stroke-width="0.2">0</text>
</g>
</g>
<g fill="#000" font-family="Liberation Serif, serif" font-size="15" stroke="#000" stroke-width="0.3">
<text x="287.4" y="248.6" font-family="Liberation Sans, sans-serif" font-size="13.5" font-style="italic" stroke-width="0.4">β</text>
<text x="306.9" y="248.7" textLength="6.6" lengthAdjust="spacingAndGlyphs" stroke-width="0.18">r</text>
<text x="336.8" y="248.7" textLength="6.8" lengthAdjust="spacingAndGlyphs" stroke-width="0.18">r</text>
<text x="362.4" y="248.7" textLength="8.9" lengthAdjust="spacingAndGlyphs" stroke-width="0.45">R</text>
<g font-family="Liberation Sans, sans-serif" font-size="8.8" font-weight="bold" stroke-width="0.1">
<text x="314.1" y="242.1" textLength="4.9" lengthAdjust="spacingAndGlyphs">2</text>
<text x="344.9" y="242.1" textLength="4.9" lengthAdjust="spacingAndGlyphs">2</text>
<text x="376.9" y="242.1" textLength="4.9" lengthAdjust="spacingAndGlyphs">2</text>
<text x="371.2" y="252.6" font-size="7.4" stroke-width="0.35">e</text>
</g>
<path d="M296.7 243.3H305.6M296.7 247H305.6M321.3 250.9L328.2 235.6M352.3 244.9H360.9M356.6 240.8V249.1" fill="none" stroke-width="1.2"/>
<path d="M335.2 234.9Q330.6 243.5 335.2 252.1M383.6 234.9Q388.2 243.5 383.6 252.1" fill="none" stroke-width="1.35"/>
</g>
<!-- x title -->
<g fill="#000" font-family="Liberation Serif, serif" font-size="11.3" font-weight="bold" stroke="#000" stroke-width="0.2">
<text x="203.9" y="455.7" textLength="3.9" lengthAdjust="spacingAndGlyphs">I</text>
<text x="221.5" y="455.7" textLength="9.7" lengthAdjust="spacingAndGlyphs">M</text>
<text x="236.7" y="455.7" textLength="13.5" lengthAdjust="spacingAndGlyphs">pc</text>
<g font-family="Liberation Sans, sans-serif" font-weight="bold" stroke="#000">
<text x="207.9" y="459.0" font-size="6.6" stroke-width="0.3">e</text>
<text x="257.0" y="450.7" font-size="7.5" stroke-width="0.15" textLength="4.5" lengthAdjust="spacingAndGlyphs">2</text>
</g>
<path d="M252.8 448.3H256.1" fill="none" stroke="#000" stroke-width="1.2"/>
<circle cx="233.75" cy="455.6" r="2.15" fill="none" stroke="#000" stroke-width="1.0"/>
<circle cx="233.75" cy="455.6" r="0.65" fill="#000"/>
<path d="M220.6 446.9Q216.9 452.9 220.6 458.9M263.1 446.9Q266.8 452.9 263.1 458.9" fill="none" stroke="#000" stroke-width="1.2"/>
</g>
<!-- y titles -->
<g id="ylab">
<path d="M21.70 120.80L24.20 120.80L23.70 122.00L23.70 126.30L24.20 127.50L21.70 127.50L22.20 126.30L22.20 122.00ZM28.65 120.80L31.15 120.80L30.65 122.00L30.65 126.30L31.15 127.50L28.65 127.50L29.15 126.30L29.15 122.00ZM25.6 122.5H27.0V125.8H25.6Z" fill="#000"/>
<path d="M25.5 119.0H19.6L24.0 117.25L19.6 115.5H25.5" fill="none" stroke="#000" stroke-width="1.35" stroke-linejoin="miter"/>
</g>
<g transform="translate(3.7 203.1)">
<path d="M21.70 120.80L24.20 120.80L23.70 122.00L23.70 126.30L24.20 127.50L21.70 127.50L22.20 126.30L22.20 122.00ZM28.65 120.80L31.15 120.80L30.65 122.00L30.65 126.30L31.15 127.50L28.65 127.50L29.15 126.30L29.15 122.00ZM25.6 122.5H27.0V125.8H25.6Z" fill="#000"/>
<path d="M25.5 119.0H19.6L24.0 117.25L19.6 115.5H25.5" fill="none" stroke="#000" stroke-width="1.35" stroke-linejoin="miter"/>
</g>
</g>

</svg>
</body></html>
